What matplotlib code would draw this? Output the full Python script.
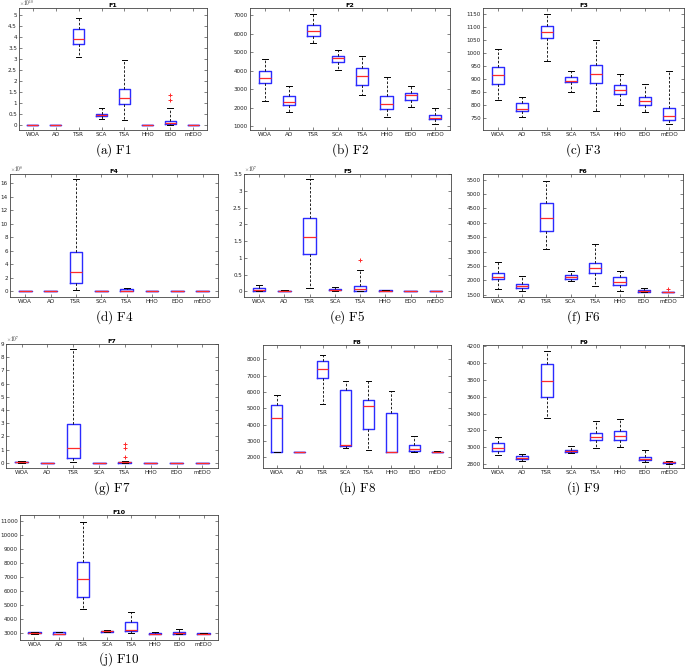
import numpy as np
import matplotlib.pyplot as plt

plt.rcParams['mathtext.fontset'] = 'cm'

algos = ['WOA', 'AO', 'TSR', 'SCA', 'TSA', 'HHO', 'EDO', 'mEDO']

# per panel: rows of (whislo, q1, med, q3, whishi) for each algorithm
f1 = [(0, 0, 0, 0, 0), (0, 0, 0, 0, 0), (3.07, 3.68, 3.88, 4.33, 4.85),
      (0.27, 0.38, 0.45, 0.50, 0.73), (0.22, 0.95, 1.22, 1.60, 2.95),
      (0, 0, 0, 0, 0), (0, 0.03, 0.08, 0.15, 0.73), (0, 0, 0, 0, 0)]
f1_out = {6: [1.12, 1.32]}
f2 = [(2380, 3350, 3630, 4000, 4640), (1780, 2140, 2280, 2620, 3150),
      (5500, 5870, 6130, 6500, 7080), (4050, 4460, 4700, 4800, 5150),
      (2680, 3250, 3700, 4170, 4780), (1480, 1920, 2200, 2620, 3650),
      (2040, 2400, 2680, 2800, 3150), (1100, 1360, 1460, 1580, 1990)]
f3 = [(822, 883, 915, 945, 1015), (755, 780, 788, 808, 833),
      (968, 1057, 1080, 1105, 1150), (852, 888, 895, 907, 930),
      (780, 885, 918, 955, 1050), (803, 845, 860, 877, 918),
      (775, 803, 818, 832, 880), (730, 745, 760, 790, 930)]
f4 = [(0, 0, 0, 0, 0), (0, 0, 0, 0, 0), (0.2, 1.3, 2.8, 5.8, 16.7),
      (0, 0, 0, 0, 0), (0, 0, 0.05, 0.3, 0.45), (0, 0, 0, 0, 0),
      (0, 0, 0, 0, 0), (0, 0, 0, 0, 0)]
f5 = [(0, 0.02, 0.05, 0.09, 0.18), (0, 0, 0.01, 0.02, 0.03),
      (0.1, 1.1, 1.62, 2.2, 3.35), (0, 0.03, 0.05, 0.07, 0.14),
      (0, 0.02, 0.06, 0.15, 0.63), (0, 0.005, 0.01, 0.03, 0.04),
      (0, 0, 0, 0, 0), (0, 0, 0, 0, 0)]
f5_out = {4: [0.92]}
f6 = [(1710, 2040, 2100, 2260, 2640), (1640, 1740, 1790, 1880, 2160),
      (3080, 3720, 4180, 4680, 5460), (1980, 2050, 2120, 2180, 2340),
      (1790, 2240, 2420, 2610, 3260), (1640, 1850, 1950, 2120, 2310),
      (1600, 1610, 1630, 1650, 1750), (1600, 1600, 1605, 1610, 1610)]
f6_out = {7: [1690]}
f7 = [(0, 0.02, 0.04, 0.07, 0.1), (0, 0, 0, 0, 0), (0.05, 0.35, 1.1, 2.95, 8.6),
      (0, 0, 0, 0, 0), (0, 0, 0.03, 0.05, 0.15), (0, 0, 0, 0, 0),
      (0, 0, 0, 0, 0), (0, 0, 0, 0, 0)]
f7_out = {4: [0.45, 1.1, 1.45]}
f8 = [(2330, 2330, 4380, 5200, 5800), (2330, 2330, 2330, 2330, 2330),
      (5270, 6870, 7380, 7870, 8250), (2550, 2680, 2730, 6120, 6650),
      (2420, 3700, 5130, 5480, 6680), (2330, 2330, 2340, 4700, 6080),
      (2330, 2400, 2480, 2730, 3310), (2320, 2330, 2330, 2340, 2350)]
f9 = [(2910, 2960, 2995, 3055, 3120), (2840, 2860, 2875, 2895, 2920),
      (3350, 3600, 3790, 3980, 4140), (2935, 2945, 2960, 2975, 3015),
      (2990, 3090, 3125, 3175, 3310), (3000, 3090, 3140, 3190, 3335),
      (2830, 2850, 2865, 2890, 2975), (2810, 2820, 2825, 2830, 2840)]
f10 = [(2900, 2950, 2990, 3030, 3080), (2880, 2900, 2920, 3030, 3050),
       (4680, 5580, 6830, 8060, 10880), (3040, 3060, 3090, 3120, 3160),
       (2950, 3090, 3220, 3740, 4450), (2880, 2910, 2940, 2980, 3020),
       (2900, 2940, 2980, 3040, 3270), (2880, 2910, 2940, 2970, 3010)]

panels = [
    ('F1', '(a) F1', f1, f1_out, (-0.25, 5.3), np.arange(0, 5.01, 0.5), '10'),
    ('F2', '(b) F2', f2, {}, (790, 7400), np.arange(1000, 7001, 1000), None),
    ('F3', '(c) F3', f3, {}, (706, 1172), np.arange(750, 1151, 50), None),
    ('F4', '(d) F4', f4, {}, (-0.85, 17.4), np.arange(0, 17, 2), '8'),
    ('F5', '(e) F5', f5, f5_out, (-0.17, 3.5), np.arange(0, 3.51, 0.5), '7'),
    ('F6', '(f) F6', f6, f6_out, (1420, 5700), np.arange(1500, 5501, 500), None),
    ('F7', '(g) F7', f7, f7_out, (-0.4, 9.0), np.arange(0, 10, 1), '7'),
    ('F8', '(h) F8', f8, {}, (1330, 8880), np.arange(2000, 8001, 1000), None),
    ('F9', '(i) F9', f9, {}, (2757, 4210), np.arange(2800, 4201, 200), None),
    ('F10', '(j) F10', f10, {}, (2480, 11400), np.arange(3000, 11001, 1000), None),
]

# axes boxes in pixels: left, top, right, bottom
boxes = [(19, 8, 207, 130), (250, 8, 450, 130), (483, 8, 684, 130),
         (10, 174, 218, 297), (244, 174, 451, 297), (483, 174, 683, 297),
         (6, 344, 218, 468), (263, 345, 451, 468), (483, 345, 684, 468),
         (20, 515, 218, 640)]
cap_y = [150, 150, 150, 317, 317, 317, 488, 488, 488, 659]

W, H = 685, 667
fig = plt.figure(figsize=(W / 100, H / 100), dpi=100)

for (title, cap, rows, outl, ylim, yt, expo), (l, t, r, b), cy in zip(panels, boxes, cap_y):
    ax = fig.add_axes([l / W, 1 - b / H, (r - l) / W, (b - t) / H])
    stats = []
    for i, (lo, q1, med, q3, hi) in enumerate(rows):
        stats.append(dict(whislo=lo, q1=q1, med=med, q3=q3, whishi=hi,
                          fliers=outl.get(i, [])))
    ax.bxp(stats, positions=range(1, 9), widths=0.5, showfliers=True,
           boxprops=dict(color='#2b2bff', linewidth=1.0),
           medianprops=dict(color='#ff2a2a', linewidth=0.9),
           whiskerprops=dict(color='black', linewidth=0.6, linestyle=(0, (3, 2))),
           capprops=dict(color='black', linewidth=0.7),
           flierprops=dict(marker='+', markeredgecolor='#ff2a2a', markersize=3,
                           markeredgewidth=0.7))
    ax.set_xlim(0.4, 8.6)
    ax.set_ylim(*ylim)
    ax.set_yticks(yt)
    ax.set_yticklabels([f'{v:g}' for v in yt])
    if expo is not None:
        ax.text(0.0, 1.0, r'$\times10^{%s}$' % expo, transform=ax.transAxes,
                fontsize=3.8, ha='left', va='bottom', color='#333333')
    ax.set_xticks(range(1, 9))
    ax.set_xticklabels(algos)
    ax.tick_params(direction='in', top=True, right=True, length=2, width=0.4,
                   labelsize=4.1, pad=1.5, colors='#222222')
    for sp in ax.spines.values():
        sp.set_linewidth(0.6)
        sp.set_color('#444444')
    ax.set_title(title, fontsize=4.6, fontweight='bold', pad=1.0)
    fig.text((l + r) / 2 / W, 1 - cy / H, r'$\mathrm{%s}$' % cap.replace(' ', r'\ '),
             ha='center', va='center', fontsize=9.5)

fig.savefig('out.png', dpi=100)
